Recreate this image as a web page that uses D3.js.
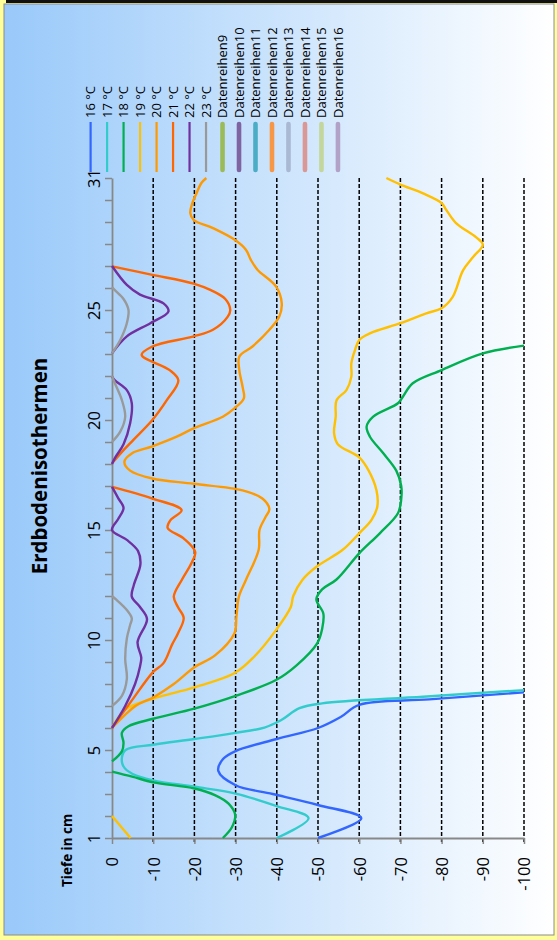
<!DOCTYPE html>
<html>
<head>
<meta charset="utf-8">
<title>Erdbodenisothermen</title>
<script src="https://d3js.org/d3.v7.min.js"></script>
<style>
  body { margin: 0; background: #fff; }
  text { font-family: "Open Sans", "Liberation Sans", sans-serif; fill: #000; }
</style>
</head>
<body>
<svg width="557" height="940"></svg>
<script>
// Achsen: Tage 1..31 und Tiefe 0..-100 cm
var tage = d3.range(1, 32);
var tageLabels = [1, 5, 10, 15, 20, 25, 31];
var tiefen = d3.range(0, -101, -10);

var legendeNamen = ["16 °C", "17 °C", "18 °C", "19 °C", "20 °C", "21 °C", "22 °C", "23 °C",
  "Datenreihen9", "Datenreihen10", "Datenreihen11", "Datenreihen12",
  "Datenreihen13", "Datenreihen14", "Datenreihen15", "Datenreihen16"];
var farben = ["#3366ff", "#33cccc", "#00b050", "#ffc000", "#ff9900", "#ff6600", "#7030a0", "#999999",
  "#9bbb59", "#8064a2", "#4bacc6", "#f79646", "#a9b8d3", "#d99795", "#c3d69b", "#b3a2c7"];

// Isothermen als [Tag, Tiefe], null = Luecke
var t16 = [[1,-50],[1.9,-60.5],[2.5,-50],[3,-39],[3.4,-30],[4.05,-25.8],[4.6,-27],[4.95,-30],
  [5.5,-40],[6,-50],[6.5,-55.5],[7.05,-60],[7.3,-77],[7.62,-100]];
var t17 = [[1,-40],[1.9,-47.7],[2.45,-40],[3.02,-30],[3.33,-20],[3.62,-10],[3.92,-4.9],[4.25,-2.8],
  [4.65,-2.4],[5.0,-3.3],[5.24,-10],[5.5,-20],[5.78,-30],[6.02,-37],[6.35,-41],[6.9,-45.5],
  [7.12,-51],[7.42,-75.5],[7.72,-100]];
var t18 = [[1,-26.9],[1.49,-29.1],[2.05,-29.9],[2.56,-28.3],[2.94,-25.1],[3.25,-20],[3.53,-10],
  [3.79,-4.9],[4.02,0], null,
  [4.48,0],[4.94,-2.4],[5.32,-2.8],[5.78,-2.4],[6.08,-4],[6.42,-10],[6.88,-20],[7.46,-30],
  [8.18,-39.8],[8.85,-44.8],[9.85,-49.8],[10.5,-51],[11.2,-51.3],[11.85,-49.6],[12.3,-51],
  [12.75,-54.5],[13.94,-60],[14.85,-65],[15.76,-69.4],[16.4,-70.2],[17.0,-70.2],[17.7,-69],
  [18.5,-65.8],[19.24,-62.6],[19.7,-61.8],[20.15,-63.4],[20.76,-69.4],[21.06,-70.6],
  [21.67,-73],[22.27,-80],[23.03,-90],[23.38,-100]];
var t19 = [[1,-4.5],[2,0], null,
  [6,0],[6.85,-3.3],[7.34,-10],[7.85,-20],[8.5,-29.8],[9.24,-34.5],[10.45,-39.8],[11.5,-43.4],
  [12,-44],[12.73,-46.2],[13.34,-49.7],[14.1,-56],[14.85,-60],[15.46,-63],[16.07,-64.4],
  [16.8,-64.2],[17.7,-62.3],[18.3,-60],[18.9,-54.8],[19.4,-53.9],[20.15,-54.3],[20.9,-54.5],
  [21.36,-56.9],[21.97,-58.1],[22.58,-58.1],[23.19,-59],[23.64,-60],[23.94,-62.6],[24.4,-70],
  [24.85,-76.3],[25.08,-80],[25.6,-82.7],[26.8,-85.2],[27.4,-87.6],[27.97,-90],[28.3,-88.4],
  [28.95,-83.5],[29.56,-81.1],[29.86,-80],[30.3,-75.5],[30.7,-70],[31,-66.6]];
var t20 = [[6,0],[7.0,-5.7],[7.39,-10],[8.0,-15],[8.76,-20],[9.3,-25],[10.3,-29.7],[11.06,-30.2],
  [11.97,-30.8],[12.73,-32.5],[14.1,-35.6],[15.0,-35.8],[15.6,-37.3],[15.95,-38.2],[16.43,-36.5],
  [16.8,-31.7],[17.1,-19.8],[17.34,-9.8],[17.7,-4.4],[18.1,-3],[18.48,-4.8],[18.8,-9.8],
  [19.24,-15.7],[19.62,-19.8],[20.15,-26.9],[20.53,-29.7],[20.98,-32],[21.5,-31.7],[22.27,-30.9],
  [22.88,-30.9],[23.34,-34.1],[24.1,-38.2],[24.7,-40.6],[25.3,-41.2],[26.07,-39.8],[26.83,-35.3],
  [27.28,-33.7],[27.74,-32.5],[28.2,-29.7],[28.72,-24.5],[29.1,-19.8],[29.4,-19],[29.86,-19.5],
  [30.3,-20.5],[30.77,-21.7],[31,-22.9]];
var t21 = [[6,0],[7.3,-5],[8.55,-10],[8.95,-12.5],[9.8,-14.6],[10.3,-16],[11.0,-17.4],[11.5,-16],
  [11.97,-15],[12.75,-17],[13.5,-19.3],[14.0,-20.2],[14.6,-17.5],[15.1,-13.5],[15.45,-14.2],
  [15.9,-16.9],[16.43,-9.8],[16.96,0], null,
  [18.03,0],[18.63,-2.8],[19.1,-5.2],[20.0,-9.8],[20.9,-13.3],[21.8,-16.1],[22.27,-14],
  [22.96,-7.2],[23.34,-9.8],[23.8,-19.8],[24.1,-24.5],[24.7,-28.1],[25.0,-28.7],[25.5,-27.5],
  [25.9,-24],[26.2,-19.8],[26.6,-9.8],[26.98,0]];
var t22 = [[6,0],[7.0,-3.2],[8.0,-5.6],[8.8,-6.8],[9.2,-7.1],[9.9,-6.2],[10.95,-8.5],[11.5,-6.8],
  [11.97,-4.8],[12.5,-5.3],[13.45,-6.9],[14.05,-6.3],[14.55,-3.6],[15.0,0],[15.5,-1.5],
  [16.0,-2.8],[16.45,-1.5],[16.96,0], null,
  [18.0,0],[18.3,-0.8],[18.9,-2.8],[19.85,-4.4],[20.76,-4.8],[21.36,-3.6],[21.8,-0.7],[21.97,0], null,
  [23.03,0],[23.8,-3.6],[24.4,-9.3],[24.93,-13.7],[25.3,-12.5],[25.7,-6.8],[26.14,-3.6],[27.0,0]];
var t23 = [[7.0,0],[7.46,-2.4],[8.23,-3.6],[9.15,-3.2],[10.07,-3.6],[10.68,-4.4],[10.98,-4.8],
  [11.36,-3.6],[11.82,-1.1],[12.0,0], null,
  [19.0,0],[19.47,-2],[20.15,-3.2],[20.9,-2.4],[21.67,-0.7],[22.0,0], null,
  [23.03,0],[23.64,-2],[24.4,-3.6],[25.0,-4],[25.5,-2.8],[25.9,-0.7],[26.04,0]];

var reihen = [t16, t17, t18, t19, t20, t21, t22, t23];

var svg = d3.select("svg");

// Rahmen und Hintergrund
var defs = svg.append("defs");
var grad = defs.append("linearGradient").attr("id", "bg").attr("x1", 0).attr("x2", 1).attr("y1", 0).attr("y2", 0);
grad.append("stop").attr("offset", "0%").attr("stop-color", "#99c9fa");
grad.append("stop").attr("offset", "100%").attr("stop-color", "#ffffff");

svg.append("rect").attr("x", 0).attr("y", 0).attr("width", 557).attr("height", 940).attr("fill", "#ffff99");
svg.append("rect").attr("x", 4).attr("y", 4).attr("width", 550).attr("height", 931)
  .attr("fill", "url(#bg)").attr("stroke", "#8c8c8c").attr("stroke-width", 1);
svg.append("rect").attr("x", 6).attr("y", 0).attr("width", 551).attr("height", 3).attr("fill", "#111");

var yTag = d3.scaleLinear().domain([1, 31]).range([838, 178]);
var xTiefe = d3.scaleLinear().domain([0, -100]).range([112, 524]);

// gestrichelte Gitterlinien
svg.append("g").selectAll("line")
  .data(tiefen.filter(d => d !== 0))
  .join("line")
  .attr("x1", d => xTiefe(d)).attr("x2", d => xTiefe(d))
  .attr("y1", yTag(31)).attr("y2", yTag(1) + 5)
  .attr("stroke", "#000").attr("stroke-width", 1.5).attr("stroke-dasharray", "4,2");

// Tiefenachse (unten)
var achseX = svg.append("g").attr("transform", "translate(0," + yTag(1) + ")")
  .call(d3.axisBottom(xTiefe).tickValues(tiefen).tickSize(6).tickSizeOuter(0).tickFormat(d => String(d)));
achseX.select(".domain").attr("stroke", "#888").attr("stroke-width", 1.8);
achseX.selectAll(".tick line").attr("stroke", "#888").attr("stroke-width", 1.5);
achseX.selectAll("text")
  .attr("x", 0).attr("y", 0).attr("dy", "0.36em")
  .attr("transform", "translate(0,19) rotate(-90)")
  .attr("text-anchor", "end")
  .style("font-size", "16.5px");

// Tagesachse (links)
var achseY = svg.append("g").attr("transform", "translate(" + xTiefe(0) + ",0)")
  .call(d3.axisLeft(yTag).tickValues(tage).tickSize(7).tickSizeOuter(0)
    .tickFormat(d => tageLabels.indexOf(d) >= 0 ? String(d) : ""));
achseY.select(".domain").attr("stroke", "#888").attr("stroke-width", 1.8);
achseY.selectAll(".tick line").attr("stroke", "#888").attr("stroke-width", 1.5);
achseY.selectAll("text")
  .attr("x", 0).attr("dy", 0)
  .attr("transform", "translate(-12,0) rotate(-90)")
  .attr("text-anchor", "middle")
  .style("font-size", "16.5px");

// Isothermen (geglaettet)
var linie = d3.line()
  .defined(d => d !== null)
  .x(d => xTiefe(d[1]))
  .y(d => yTag(d[0]))
  .curve(d3.curveCatmullRom.alpha(0.5));

svg.append("g").selectAll("path")
  .data(reihen)
  .join("path")
  .attr("d", linie)
  .attr("fill", "none")
  .attr("stroke", (d, i) => farben[i])
  .attr("stroke-width", 2.4)
  .attr("stroke-linejoin", "round");

// Legende
var leg = svg.append("g").selectAll("g")
  .data(legendeNamen)
  .join("g")
  .attr("transform", (d, i) => "translate(" + (90.6 + i * 16.49) + ",0)");
leg.append("line")
  .attr("y1", (d, i) => i < 8 ? 122 : 124).attr("y2", (d, i) => i < 8 ? 172 : 170)
  .attr("stroke", (d, i) => farben[i])
  .attr("stroke-width", (d, i) => i < 8 ? 2.2 : 4.6)
  .attr("stroke-linecap", (d, i) => i < 8 ? "butt" : "round");
leg.append("text")
  .attr("transform", "translate(0,118) rotate(-90)")
  .attr("dy", "0.36em")
  .style("font-size", "13px")
  .text(d => d);

// Titel
svg.append("text")
  .attr("transform", "translate(47,466) rotate(-90)")
  .attr("text-anchor", "middle")
  .style("font-size", "20.5px").style("font-weight", "bold")
  .text("Erdbodenisothermen");

svg.append("text")
  .attr("transform", "translate(72,887) rotate(-90)")
  .style("font-size", "13.5px").style("font-weight", "bold")
  .text("Tiefe in cm");
</script>
</body>
</html>
